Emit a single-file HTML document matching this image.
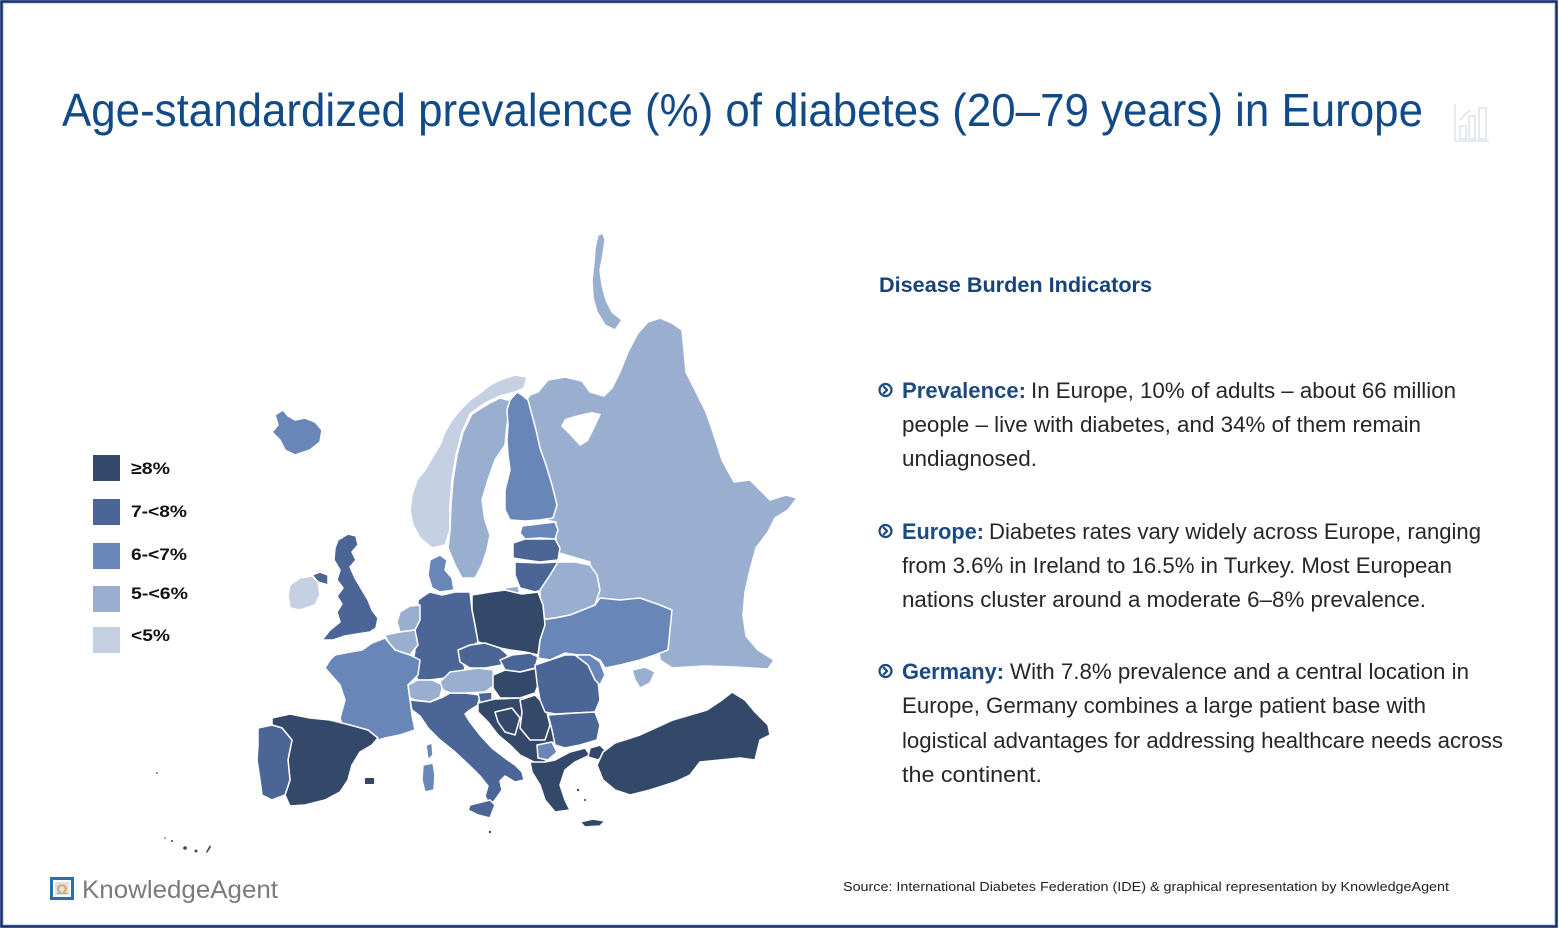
<!DOCTYPE html>
<html>
<head>
<meta charset="utf-8">
<style>
  html, body { margin:0; padding:0; background:#fff; }
  svg { display:block; }
  .t { font-family: "Liberation Sans", sans-serif; }
</style>
</head>
<body>
<svg width="1559" height="929" viewBox="0 0 1559 929" xmlns="http://www.w3.org/2000/svg">
  <rect x="0" y="0" width="1559" height="929" fill="#fff"/>
  <!-- frame -->
  <rect x="1.5" y="1.5" width="1555" height="925" fill="none" stroke="#14306a" stroke-width="2.6"/>
  <rect x="3.5" y="3.5" width="1551" height="921" fill="none" stroke="#c9d8ee" stroke-width="1"/>

  <!-- Title -->
  <text class="t" x="62" y="126" font-size="46" fill="#124a87" textLength="1361" lengthAdjust="spacingAndGlyphs">Age-standardized prevalence (%) of diabetes (20–79 years) in Europe</text>

  <!-- chart icon -->
  <g fill="none" stroke="#dfe4eb" stroke-width="1.6">
    <path d="M1455,104 L1455,141 L1489,141"/>
    <rect x="1460" y="126" width="6" height="13"/>
    <rect x="1469" y="116" width="6" height="23"/>
    <rect x="1479" y="108" width="7" height="31"/>
    <path d="M1460,120 L1470,110"/>
  </g>

  <!-- Legend -->
  <rect x="93" y="455" width="27" height="26" fill="#34496a"/>
  <rect x="93" y="499" width="27" height="26" fill="#4a6596"/>
  <rect x="93" y="543" width="27" height="26" fill="#6887b8"/>
  <rect x="93" y="586" width="27" height="26" fill="#9aafcf"/>
  <rect x="93" y="627" width="27" height="26" fill="#c5d0e3"/>
  <g class="t" font-size="17" font-weight="bold" fill="#111">
    <text x="131" y="474" textLength="39" lengthAdjust="spacingAndGlyphs">≥8%</text>
    <text x="131" y="517" textLength="56" lengthAdjust="spacingAndGlyphs">7-&lt;8%</text>
    <text x="131" y="560" textLength="56" lengthAdjust="spacingAndGlyphs">6-&lt;7%</text>
    <text x="131" y="599" textLength="57" lengthAdjust="spacingAndGlyphs">5-&lt;6%</text>
    <text x="131" y="641" textLength="39" lengthAdjust="spacingAndGlyphs">&lt;5%</text>
  </g>

  <!-- MAP -->
  <g stroke="#ffffff" stroke-width="1.5" stroke-linejoin="round">
    <!-- Russia -->
    <path fill="#9aafcf" d="M538,392 L548,380 L565,377 L582,381 L590,392 L604,396 L612,388 L620,372 L628,352 L638,333 L648,322 L660,318 L672,323 L682,330 L684,350 L686,372 L696,392 L706,412 L714,435 L722,460 L734,482 L750,480 L760,490 L770,500 L786,495 L797,498 L788,510 L775,518 L768,532 L756,548 L750,570 L745,592 L743,615 L746,636 L758,650 L774,660 L768,669 L735,667 L705,666 L672,668 L660,660 L655,620 L620,608 L592,604 L590,562 L556,552 L556,522 L545,520 L530,500 L522,450 L520,410 L530,395 Z"/>
    <!-- White sea -->
    <path fill="#fff" stroke="none" d="M592,412 L578,415 L565,419 L561,426 L570,435 L580,446 L588,441 L595,427 L601,414 Z"/>
    <!-- Novaya Zemlya -->
    <path fill="#9aafcf" d="M598,235 L603,233 L605,240 L603,255 L600,270 L602,285 L606,300 L612,312 L622,320 L615,330 L605,325 L597,312 L593,298 L592,280 L594,262 L595,248 Z"/>
    <!-- Norway -->
    <path fill="#c5d0e3" d="M527,377 L515,375 L500,380 L490,385 L480,393 L470,400 L460,410 L452,420 L445,432 L440,445 L432,458 L425,470 L417,480 L412,495 L410,510 L413,525 L420,538 L432,548 L445,545 L450,530 L450,505 L452,480 L456,455 L462,432 L470,414 L485,403 L500,396 L515,392 L524,388 Z"/>
    <!-- Sweden -->
    <path fill="#9aafcf" d="M518,392 L508,400 L500,398 L488,404 L472,414 L463,432 L457,455 L453,480 L451,505 L450,530 L448,548 L455,565 L462,578 L475,578 L482,565 L487,550 L490,535 L485,520 L482,500 L488,480 L495,460 L505,445 L507,425 L510,405 Z"/>
    <!-- Finland -->
    <path fill="#6887b8" d="M517,392 L522,395 L528,400 L532,415 L536,430 L540,448 L546,465 L552,485 L557,505 L553,518 L540,520 L525,521 L510,520 L505,510 L505,490 L510,470 L508,455 L507,440 L508,425 L507,410 L510,400 Z"/>
    <!-- Iceland -->
    <path fill="#6887b8" d="M275,415 L283,410 L288,416 L295,420 L305,418 L315,422 L322,430 L320,442 L310,450 L295,455 L285,450 L280,440 L272,432 L278,425 Z"/>
    <!-- Ireland -->
    <path fill="#c5d0e3" d="M290,585 L300,578 L312,576 L318,582 L320,595 L315,605 L300,610 L290,608 L288,595 Z"/>
    <!-- N Ireland -->
    <path fill="#4a6596" d="M312,575 L320,572 L328,575 L328,585 L318,582 Z"/>
    <!-- Great Britain -->
    <path fill="#4a6596" d="M338,540 L348,534 L356,536 L358,545 L352,552 L356,560 L350,567 L355,578 L362,590 L368,600 L372,610 L378,618 L376,628 L370,632 L357,634 L345,636 L333,640 L322,640 L330,630 L340,622 L337,612 L342,604 L337,596 L343,588 L337,580 L340,570 L334,560 L335,548 Z"/>
    <!-- Denmark -->
    <path fill="#6887b8" d="M430,560 L440,555 L447,560 L445,570 L452,578 L454,590 L440,592 L432,588 L428,575 Z"/>
    <!-- Estonia -->
    <path fill="#6887b8" d="M522,526 L555,522 L558,530 L555,539 L540,538 L525,539 L520,533 Z"/>
    <!-- Latvia -->
    <path fill="#4a6596" d="M513,543 L525,539 L555,539 L560,548 L558,560 L540,562 L525,560 L513,558 Z"/>
    <!-- Lithuania -->
    <path fill="#4a6596" d="M515,562 L540,563 L558,562 L553,575 L548,588 L535,592 L520,588 L515,575 Z"/>
    <!-- Kaliningrad -->
    <path fill="#9aafcf" d="M505,588 L518,586 L520,594 L506,595 Z"/>
    <!-- Belarus -->
    <path fill="#9aafcf" d="M540,590 L550,575 L558,562 L575,562 L590,565 L597,575 L600,590 L595,605 L585,612 L570,615 L555,618 L540,620 L540,605 Z"/>
    <!-- Ukraine -->
    <path fill="#6887b8" d="M540,620 L555,618 L570,615 L595,605 L600,598 L620,600 L640,598 L660,605 L672,610 L670,630 L668,650 L655,655 L640,660 L620,665 L605,668 L600,660 L590,655 L578,655 L565,653 L550,660 L538,658 L540,640 Z"/>
    <!-- Crimea -->
    <path fill="#9aafcf" d="M632,670 L645,667 L655,672 L650,683 L640,688 L635,680 Z"/>
    <!-- Poland -->
    <path fill="#34496a" d="M472,595 L490,592 L505,590 L522,594 L538,592 L543,605 L545,625 L540,640 L538,655 L525,652 L510,650 L500,648 L490,645 L478,642 L475,625 L472,610 Z"/>
    <!-- Germany -->
    <path fill="#4a6596" d="M418,600 L425,595 L430,592 L442,595 L455,592 L470,592 L472,610 L475,625 L478,642 L470,648 L460,655 L465,668 L460,680 L445,678 L430,680 L418,680 L412,668 L415,650 L410,635 L412,620 L418,610 Z"/>
    <!-- Netherlands -->
    <path fill="#9aafcf" d="M400,612 L410,606 L420,605 L420,620 L415,630 L400,632 L397,622 Z"/>
    <!-- Belgium -->
    <path fill="#9aafcf" d="M385,635 L400,632 L415,630 L418,645 L410,655 L395,650 L388,642 Z"/>
    <!-- France -->
    <path fill="#6887b8" d="M335,655 L350,652 L362,650 L372,643 L385,638 L395,650 L410,655 L420,660 L418,675 L408,685 L410,700 L412,715 L415,730 L400,735 L385,738 L372,742 L360,740 L345,735 L340,718 L345,700 L340,685 L325,668 L330,660 Z"/>
    <!-- Switzerland -->
    <path fill="#9aafcf" d="M408,685 L418,680 L432,680 L443,685 L440,697 L430,702 L415,700 L410,698 Z"/>
    <!-- Italy -->
    <path fill="#4a6596" d="M410,700 L430,702 L443,697 L450,693 L465,693 L480,695 L478,705 L470,710 L465,714 L470,722 L480,735 L492,748 L505,758 L515,765 L522,772 L524,780 L515,782 L505,776 L500,781 L502,790 L495,800 L490,806 L485,796 L488,786 L480,776 L470,766 L455,752 L440,740 L428,728 L420,716 L412,710 Z"/>
    <path fill="#4a6596" d="M470,805 L490,800 L495,805 L490,818 L478,815 L468,810 Z"/>
    <path fill="#6887b8" d="M423,765 L433,763 L435,775 L434,790 L425,792 L422,780 Z"/>
    <path fill="#6887b8" d="M426,745 L432,743 L433,755 L428,760 Z"/>
    <!-- Austria -->
    <path fill="#9aafcf" d="M440,682 L450,672 L465,670 L478,668 L493,670 L495,685 L485,692 L465,693 L450,693 L443,690 Z"/>
    <!-- Czechia -->
    <path fill="#4a6596" d="M458,650 L470,645 L485,643 L500,648 L508,655 L502,665 L485,668 L470,668 L460,662 Z"/>
    <!-- Slovakia -->
    <path fill="#4a6596" d="M500,660 L512,655 L530,653 L538,657 L535,668 L520,672 L505,670 Z"/>
    <!-- Hungary -->
    <path fill="#34496a" d="M493,675 L505,670 L520,672 L537,668 L540,680 L535,693 L520,698 L500,698 L493,688 Z"/>
    <!-- Slovenia -->
    <path fill="#4a6596" d="M478,693 L492,692 L492,701 L480,703 Z"/>
    <!-- Balkans -->
    <path fill="#34496a" d="M478,703 L495,699 L520,698 L535,695 L545,705 L552,720 L555,740 L550,758 L540,765 L530,760 L520,755 L510,745 L498,735 L488,722 L478,712 Z"/>
    <path fill="#34496a" d="M495,712 L512,708 L520,718 L515,735 L505,732 L498,722 Z"/>
    <path fill="#34496a" d="M520,700 L535,695 L545,705 L550,725 L545,740 L530,740 L520,728 L522,712 Z"/>
    <path fill="#6887b8" d="M537,745 L552,742 L557,752 L548,760 L538,758 Z"/>
    <!-- Romania -->
    <path fill="#4a6596" d="M535,665 L550,660 L565,655 L578,655 L590,663 L598,680 L600,700 L595,712 L575,713 L555,714 L545,712 L540,700 L537,683 Z"/>
    <!-- Moldova -->
    <path fill="#6887b8" d="M575,655 L590,655 L600,662 L605,675 L600,685 L595,680 L588,665 Z"/>
    <!-- Bulgaria -->
    <path fill="#4a6596" d="M548,715 L575,713 L595,712 L600,725 L597,740 L580,745 L565,748 L555,745 L552,730 Z"/>
    <!-- Greece -->
    <path fill="#34496a" d="M530,762 L545,762 L555,760 L570,752 L585,748 L590,755 L575,762 L565,770 L560,785 L565,800 L570,810 L555,812 L545,800 L540,785 L532,772 Z"/>
    <path fill="#34496a" d="M580,822 L593,819 L605,821 L600,826 L585,827 Z"/>
    <!-- Turkey -->
    <path fill="#34496a" d="M590,748 L600,745 L607,752 L598,760 L588,757 Z"/>
    <path fill="#34496a" d="M597,765 L603,752 L615,743 L640,735 L673,720 L707,710 L722,700 L732,692 L745,700 L755,712 L768,725 L770,735 L760,740 L755,760 L740,758 L720,760 L700,762 L690,775 L675,782 L650,790 L630,795 L615,790 L603,780 Z"/>
    <!-- Spain -->
    <path fill="#34496a" d="M272,718 L290,714 L310,718 L330,720 L350,725 L368,730 L378,738 L372,745 L360,752 L352,765 L348,780 L340,792 L325,800 L305,805 L290,806 L285,795 L290,780 L288,760 L292,740 L282,728 L272,725 Z"/>
    <!-- Portugal -->
    <path fill="#4a6596" d="M258,728 L272,725 L282,728 L292,740 L288,760 L290,780 L285,795 L272,800 L262,795 L260,780 L257,760 L258,745 Z"/>
  </g>
  <!-- small islands -->
  <g fill="#34496a">
    <rect x="365" y="778" width="9" height="6"/>
    <circle cx="490" cy="832" r="1.2"/>
    <circle cx="185" cy="848" r="1.8"/>
    <circle cx="196" cy="851" r="1.5"/>
    <path d="M206,852 L210,845 L211,847 L207,853 Z"/>
    <circle cx="172" cy="841" r="1"/>
    <circle cx="165" cy="838" r="0.8"/>
    <circle cx="157" cy="773" r="0.9"/>
    <circle cx="578" cy="790" r="1.2"/>
    <circle cx="585" cy="800" r="1"/>
  </g>

  <!-- Right text block -->
  <text class="t" x="879" y="292" font-size="21" font-weight="bold" fill="#17427c" textLength="273" lengthAdjust="spacingAndGlyphs">Disease Burden Indicators</text>

  <g fill="none" stroke="#1b4a82" stroke-width="2.2" stroke-linecap="round" stroke-linejoin="round">
    <circle cx="885.5" cy="390" r="6"/>
    <path d="M883.8,386.8 L887.2,390 L883.8,393.2"/>
    <circle cx="885.5" cy="531" r="6"/>
    <path d="M883.8,527.8 L887.2,531 L883.8,534.2"/>
    <circle cx="885.5" cy="671" r="6"/>
    <path d="M883.8,667.8 L887.2,671 L883.8,674.2"/>
  </g>

  <g class="t" font-size="22">
    <text x="902" y="398" font-weight="bold" fill="#1b4a82" textLength="124" lengthAdjust="spacingAndGlyphs">Prevalence:</text>
    <text x="1031" y="398" fill="#262626" textLength="425" lengthAdjust="spacingAndGlyphs">In Europe, 10% of adults – about 66 million</text>
    <text x="902" y="432" fill="#262626" textLength="519" lengthAdjust="spacingAndGlyphs">people – live with diabetes, and 34% of them remain</text>
    <text x="902" y="466" fill="#262626" textLength="135" lengthAdjust="spacingAndGlyphs">undiagnosed.</text>

    <text x="902" y="539" font-weight="bold" fill="#1b4a82" textLength="82" lengthAdjust="spacingAndGlyphs">Europe:</text>
    <text x="989" y="539" fill="#262626" textLength="492" lengthAdjust="spacingAndGlyphs">Diabetes rates vary widely across Europe, ranging</text>
    <text x="902" y="573" fill="#262626" textLength="550" lengthAdjust="spacingAndGlyphs">from 3.6% in Ireland to 16.5% in Turkey. Most European</text>
    <text x="902" y="607" fill="#262626" textLength="524" lengthAdjust="spacingAndGlyphs">nations cluster around a moderate 6–8% prevalence.</text>

    <text x="902" y="679" font-weight="bold" fill="#1b4a82" textLength="102" lengthAdjust="spacingAndGlyphs">Germany:</text>
    <text x="1010" y="679" fill="#262626" textLength="459" lengthAdjust="spacingAndGlyphs">With 7.8% prevalence and a central location in</text>
    <text x="902" y="713" fill="#262626" textLength="524" lengthAdjust="spacingAndGlyphs">Europe, Germany combines a large patient base with</text>
    <text x="902" y="748" fill="#262626" textLength="601" lengthAdjust="spacingAndGlyphs">logistical advantages for addressing healthcare needs across</text>
    <text x="902" y="782" fill="#262626" textLength="140" lengthAdjust="spacingAndGlyphs">the continent.</text>
  </g>

  <!-- Logo -->
  <rect x="50" y="877" width="24" height="23" fill="#2a6fb3"/>
  <rect x="53" y="880" width="18" height="17" fill="#ffffff"/>
  <rect x="55" y="882" width="14" height="13" fill="#d6e4f2"/>
  <text class="t" x="62" y="894" font-size="14" font-weight="bold" fill="#e9a23b" text-anchor="middle">Ω</text>
  <text class="t" x="82" y="898" font-size="25" fill="#7b7b7b" textLength="196" lengthAdjust="spacingAndGlyphs">KnowledgeAgent</text>

  <!-- Source -->
  <text class="t" x="843" y="891" font-size="13" fill="#222" textLength="606" lengthAdjust="spacingAndGlyphs">Source: International Diabetes Federation (IDE) &amp; graphical representation by KnowledgeAgent</text>
</svg>
</body>
</html>
